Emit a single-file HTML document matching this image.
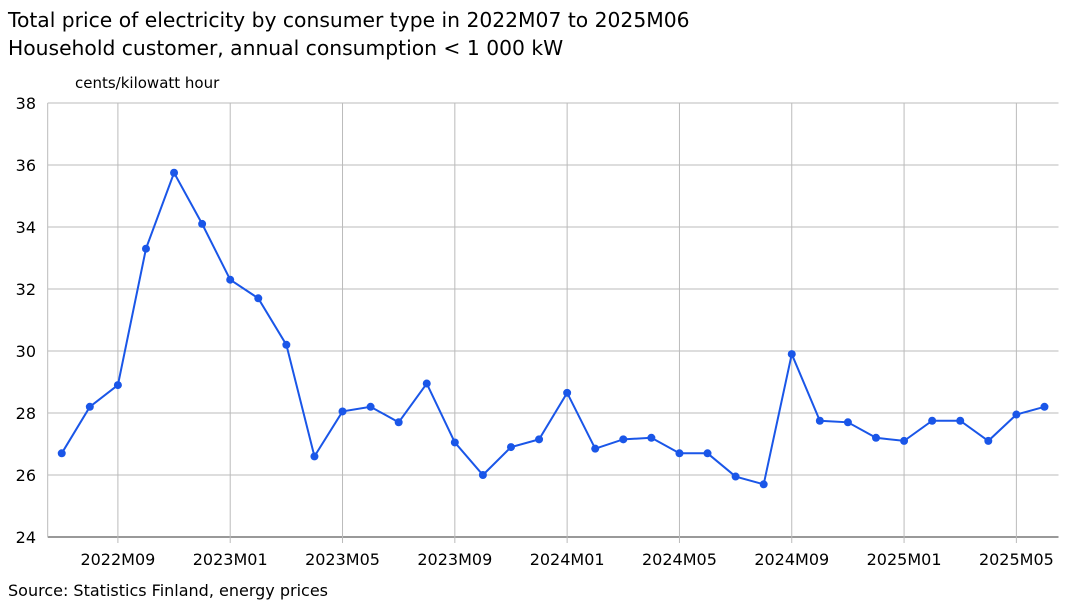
<!DOCTYPE html>
<html><head><meta charset="utf-8"><style>
body{margin:0;background:#fff;font-family:"Liberation Sans","DejaVu Sans",sans-serif;}
svg text{font-family:"DejaVu Sans","Liberation Sans",sans-serif;}
</style></head><body>
<svg width="1068" height="601" xmlns="http://www.w3.org/2000/svg">
<text x="8" y="27" font-size="20.3" fill="#000">Total price of electricity by consumer type in 2022M07 to 2025M06</text>
<text x="8" y="55" font-size="20.3" fill="#000">Household customer, annual consumption &lt; 1 000 kW</text>
<text x="75" y="88" font-size="15" fill="#000">cents/kilowatt hour</text>
<g id="grid"></g><g id="series"></g>
<text x="8" y="596" font-size="16" fill="#000">Source: Statistics Finland, energy prices</text>
</svg>
<script>
const values=[26.7,28.2,28.9,33.3,35.75,34.1,32.3,31.7,30.2,26.6,28.05,28.2,27.7,28.95,27.05,26.0,26.9,27.15,28.65,26.85,27.15,27.2,26.7,26.7,25.95,25.7,29.9,27.75,27.7,27.2,27.1,27.75,27.75,27.1,27.95,28.2];
const yTicks=[24,26,28,30,32,34,36,38];
const xLabels=["2022M09","2023M01","2023M05","2023M09","2024M01","2024M05","2024M09","2025M01","2025M05"];
const xLabelIdx=[2,6,10,14,18,22,26,30,34];
const NS="http://www.w3.org/2000/svg";
const L=47.7,R=1058.5,T=103,B=537,n=values.length,band=(R-L)/n;
const x=i=>L+band*(i+0.5);
const y=v=>B-(v-24)/(38-24)*(B-T);
function mk(t,a,p){const e=document.createElementNS(NS,t);for(const k in a)e.setAttribute(k,a[k]);p.appendChild(e);return e;}
const g=document.getElementById('grid'),s=document.getElementById('series');
yTicks.forEach(v=>{
 const l=mk('line',{x1:L,x2:R,y1:y(v),y2:y(v),stroke:v===24?'#333':'#bbb','stroke-width':1},g);
 
 
 const t=mk('text',{x:36,y:y(v)+6,'text-anchor':'end','font-size':16,fill:'#000'},g);t.textContent=v;
 
 
});
mk('line',{x1:L,x2:L,y1:T,y2:B,stroke:'#bbb'},g);
xLabels.forEach((lab,k)=>{
 const xi=x(xLabelIdx[k]);
 const l=mk('line',{x1:xi,x2:xi,y1:T,y2:B+6,stroke:'#bbb'},g);
 
 
 const t=mk('text',{x:xi,y:B+28,'text-anchor':'middle','font-size':16,fill:'#000'},g);t.textContent=lab;
 
 
});
const line=mk('polyline',{points:values.map((v,i)=>x(i)+','+y(v)).join(' '),fill:'none',stroke:'#1a56e8','stroke-width':2},s);


values.forEach((v,i)=>{
 const c=mk('circle',{cx:x(i),cy:y(v),r:4,fill:'#1a56e8'},s);
 
 
});
</script>
</body></html>
